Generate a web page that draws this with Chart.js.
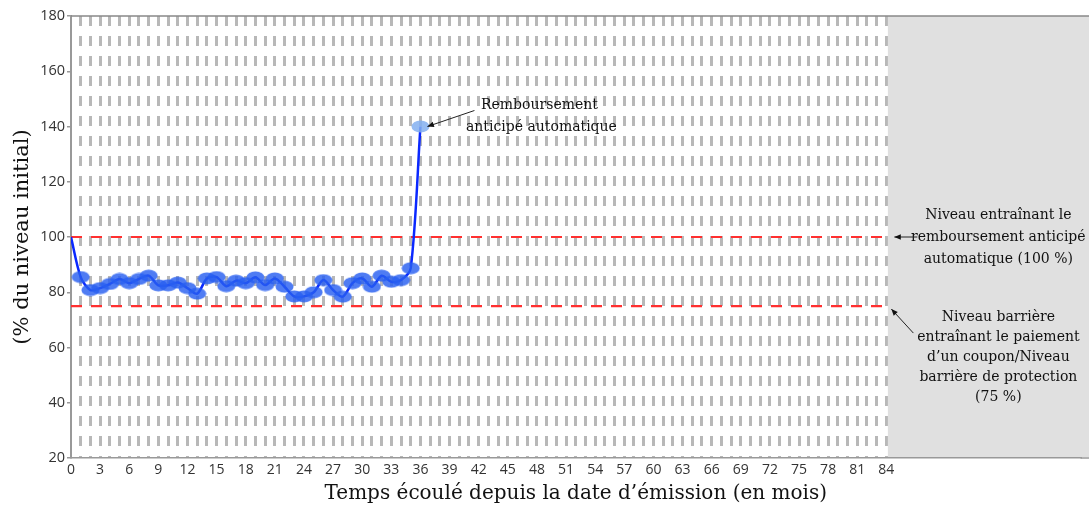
<!DOCTYPE html>
<html>
<head>
<meta charset="utf-8">
<script src="https://cdn.jsdelivr.net/npm/chart.js@4"></script>
<style>
  html, body { margin: 0; padding: 0; background: #fff; }
  #wrap { width: 1089px; height: 506px; }
</style>
</head>
<body>
<div id="wrap"><canvas id="myChart"></canvas></div>
<script>
// months since issue, 0..36
var months = [0,1,2,3,4,5,6,7,8,9,10,11,12,13,14,15,16,17,18,19,20,21,22,23,24,25,26,27,28,29,30,31,32,33,34,35,36];
// level in % of initial level
var levels = [100,85.5,80.8,81.5,83,84.8,83.3,84.8,86,82.5,82.5,83.5,81.5,79.5,85,85.5,82.2,84.2,83.3,85.4,82.6,85,82,78.5,78.5,80,84.4,80.8,78.4,83.3,85,82,86,83.8,84.4,88.7,140];
var autocallLevel = 100;
var barrierLevel = 75;
var lastMonth = 84;
var yTicks = [20,40,60,80,100,120,140,160,180];

var serif = "'DejaVu Serif', serif";
var sans = "'Open Sans', sans-serif";

function ellipse(color){
  var c = document.createElement('canvas');
  c.width = 19; c.height = 13;
  var g = c.getContext('2d');
  g.fillStyle = color;
  g.beginPath();
  g.ellipse(9.5, 6.5, 9, 6, 0, 0, Math.PI*2);
  g.fill();
  return c;
}
var dotBlue = ellipse('rgba(40,95,240,0.82)');
var dotLight = ellipse('rgba(130,175,240,0.85)');

var pts = [];
for(let i=0;i<months.length;i++){
  pts.push({x: months[i], y: levels[i]});
}

function arrow(ctx, x1, y1, x2, y2){
  var a = Math.atan2(y2-y1, x2-x1);
  ctx.beginPath();
  ctx.moveTo(x1, y1);
  ctx.lineTo(x2, y2);
  ctx.stroke();
  ctx.beginPath();
  ctx.moveTo(x2, y2);
  ctx.lineTo(x2 - 7*Math.cos(a-0.4), y2 - 7*Math.sin(a-0.4));
  ctx.lineTo(x2 - 7*Math.cos(a+0.4), y2 - 7*Math.sin(a+0.4));
  ctx.closePath();
  ctx.fill();
}

var extras = {
  id: 'extras',
  beforeDatasetsDraw: function(chart){
    var ctx = chart.ctx, a = chart.chartArea;
    var x84 = chart.scales.x.getPixelForValue(lastMonth);
    ctx.save();
    ctx.fillStyle = '#e0e0e0';
    ctx.fillRect(x84 + 1.5, a.top, chart.width - x84 - 1.5, a.bottom - a.top - 1);
    ctx.strokeStyle = '#888';
    ctx.lineWidth = 1.5;
    ctx.beginPath();
    ctx.moveTo(a.left, a.top);
    ctx.lineTo(chart.width, a.top);
    ctx.stroke();
    ctx.strokeStyle = '#999';
    ctx.beginPath();
    ctx.moveTo(a.right, a.bottom);
    ctx.lineTo(chart.width, a.bottom);
    ctx.stroke();
    ctx.restore();
  },
  afterDatasetsDraw: function(chart){
    var ctx = chart.ctx;
    var sx = chart.scales.x, sy = chart.scales.y;
    var x84 = sx.getPixelForValue(lastMonth);
    var y100 = sy.getPixelForValue(autocallLevel);
    var y75 = sy.getPixelForValue(barrierLevel);
    var px = sx.getPixelForValue(36), py = sy.getPixelForValue(140);
    ctx.save();
    ctx.fillStyle = '#111';
    ctx.strokeStyle = '#222';
    ctx.lineWidth = 1;
    ctx.font = '14px ' + serif;
    ctx.textAlign = 'center';
    ctx.textBaseline = 'middle';
    ctx.fillText('Remboursement', px + 119, py - 21);
    ctx.fillText('anticipé automatique', px + 121, py + 1);
    arrow(ctx, px + 54, py - 16, px + 7, py);

    var cx = x84 + 112;
    ctx.fillText('Niveau entraînant le', cx, y100 - 22);
    ctx.fillText('remboursement anticipé', cx, y100);
    ctx.fillText('automatique (100 %)', cx, y100 + 22);
    arrow(ctx, x84 + 31, y100, x84 + 8, y100);

    var lines = ['Niveau barrière', 'entraînant le paiement', 'd\u2019un coupon/Niveau', 'barrière de protection', '(75 %)'];
    for(let i=0;i<lines.length;i++){
      ctx.fillText(lines[i], cx, y75 + 11 + i*20);
    }
    arrow(ctx, x84 + 27, y75 + 27, x84 + 5, y75 + 3);
    ctx.restore();
  }
};

new Chart('myChart', {
  type: 'line',
  data: {
    datasets: [{
      data: pts,
      borderColor: '#0a28ff',
      borderWidth: 2.5,
      tension: 0.3,
      fill: false,
      pointRadius: function(c){ return c.dataIndex === 0 ? 0 : 6; },
      pointStyle: function(c){ return c.dataIndex === months.length - 1 ? dotLight : dotBlue; },
      order: 1
    }, {
      data: [{x: 0, y: autocallLevel}, {x: lastMonth, y: autocallLevel}],
      borderColor: '#ff3030',
      borderWidth: 2.2,
      borderDash: [11, 9],
      pointRadius: 0,
      order: 2
    }, {
      data: [{x: 0, y: barrierLevel}, {x: lastMonth, y: barrierLevel}],
      borderColor: '#ff3030',
      borderWidth: 2.2,
      borderDash: [11, 9],
      pointRadius: 0,
      order: 2
    }]
  },
  options: {
    responsive: true,
    maintainAspectRatio: false,
    animation: false,
    layout: {padding: {top: 16, right: 0, left: 0, bottom: 0}},
    plugins: {legend: {display: false}, tooltip: {enabled: false}},
    scales: {
      x: {
        type: 'linear',
        min: 0,
        max: 104,
        afterFit: function(s){ s.height = 48; },
        ticks: {
          stepSize: 1,
          autoSkip: false,
          maxRotation: 0,
          padding: 4,
          color: '#333',
          font: {family: sans, size: 14},
          callback: function(v){ return (v % 3 === 0 && v <= lastMonth) ? String(v) : ''; }
        },
        grid: {
          drawTicks: false,
          lineWidth: 3,
          color: function(c){
            var v = c.tick ? c.tick.value : 0;
            return (v > 0 && v <= lastMonth) ? '#b8b8b8' : 'rgba(0,0,0,0)';
          }
        },
        border: {color: '#999', width: 1.5, dash: [10, 10]},
        title: {
          display: true,
          text: 'Temps écoulé depuis la date d\u2019émission (en mois)',
          color: '#111',
          font: {family: serif, size: 20},
          padding: {top: 0, bottom: 0}
        }
      },
      y: {
        min: 20,
        max: 180,
        afterFit: function(s){ s.width = 71; },
        afterBuildTicks: function(s){ s.ticks = yTicks.map(function(v){ return {value: v}; }); },
        ticks: {
          color: '#333',
          padding: 2,
          font: {family: sans, size: 14.5}
        },
        grid: {drawOnChartArea: false, tickLength: 4, color: '#999', lineWidth: 1.5},
        border: {color: '#999', width: 2},
        title: {
          display: true,
          text: '(% du niveau initial)',
          color: '#111',
          font: {family: serif, size: 21},
          padding: {top: 10, bottom: 0}
        }
      }
    }
  },
  plugins: [extras]
});
</script>
</body>
</html>
